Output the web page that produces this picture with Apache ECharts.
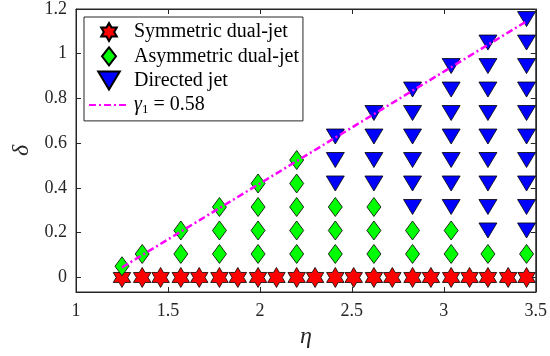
<!DOCTYPE html>
<html>
<head>
<meta charset="utf-8">
<script src="https://cdn.jsdelivr.net/npm/echarts@6/dist/echarts.min.js"></script>
<style>
html, body { margin: 0; padding: 0; background: #fff; }
#main { width: 550px; height: 356px; }
</style>
</head>
<body>
<div id="main"></div>
<script>
// symmetric dual-jet (delta = 0)
var starEta = [1.25, 1.36, 1.46, 1.57, 1.67, 1.78, 1.88, 1.99, 2.09, 2.2, 2.3, 2.41, 2.51, 2.62, 2.72, 2.83, 2.93, 3.04, 3.14, 3.24, 3.35, 3.45];
var starDelta = [0, 0, 0, 0, 0, 0, 0, 0, 0, 0, 0, 0, 0, 0, 0, 0, 0, 0, 0, 0, 0, 0];

// asymmetric dual-jet
var diamondEta = [1.25, 1.36,
	1.57, 1.57,
	1.78, 1.78, 1.78,
	1.99, 1.99, 1.99, 1.99,
	2.2, 2.2, 2.2, 2.2, 2.2,
	2.41, 2.41, 2.41,
	2.62, 2.62, 2.62,
	2.83, 2.83,
	3.04, 3.04,
	3.24,
	3.45];
var diamondDelta = [0.05, 0.105,
	0.105, 0.21,
	0.105, 0.21, 0.315,
	0.105, 0.21, 0.315, 0.42,
	0.105, 0.21, 0.315, 0.42, 0.525,
	0.105, 0.21, 0.315,
	0.105, 0.21, 0.315,
	0.105, 0.21,
	0.105, 0.21,
	0.105,
	0.105];

// directed jet
var triEta = [2.41, 2.41, 2.41,
	2.62, 2.62, 2.62, 2.62,
	2.83, 2.83, 2.83, 2.83, 2.83, 2.83,
	3.04, 3.04, 3.04, 3.04, 3.04, 3.04, 3.04,
	3.24, 3.24, 3.24, 3.24, 3.24, 3.24, 3.24, 3.24, 3.24,
	3.45, 3.45, 3.45, 3.45, 3.45, 3.45, 3.45, 3.45, 3.45, 3.45];
var triDelta = [0.42, 0.525, 0.63,
	0.42, 0.525, 0.63, 0.735,
	0.315, 0.42, 0.525, 0.63, 0.735, 0.84,
	0.315, 0.42, 0.525, 0.63, 0.735, 0.84, 0.945,
	0.21, 0.315, 0.42, 0.525, 0.63, 0.735, 0.84, 0.945, 1.05,
	0.21, 0.315, 0.42, 0.525, 0.63, 0.735, 0.84, 0.945, 1.05, 1.155];

// gamma_1 = 0.58 boundary
var lineEta = [1.25, 3.45];
var lineDelta = [0.045, 1.145];

var xTicks = [1, 1.5, 2, 2.5, 3, 3.5];
var yTicks = [0, 0.2, 0.4, 0.6, 0.8, 1, 1.2];

var names = ['Symmetric dual-jet', 'Asymmetric dual-jet', 'Directed jet', 'γ1 = 0.58'];

function pairs(xs, ys) {
	var out = [];
	for (var i = 0; i < xs.length; i++) {
		out.push([xs[i], ys[i]]);
	}
	return out;
}

var STAR = 'path://M100 0L128.87 50L186.6 50L157.7 100L186.6 150L128.87 150L100 200L71.13 150L13.4 150L42.3 100L13.4 50L71.13 50Z';
var DIAMOND = 'path://M7 0L14 9L7 18L0 9Z';
var TRI_DOWN = 'path://M0 0L18 0L9 15Z';

var serif = '"Liberation Serif", "Times New Roman", serif';
var axisColor = '#262626';

// box axes (MATLAB style, ticks inside on all four sides)
function boxAxis(extra) {
	var ax = {
		type : 'value',
		axisLine : { show : true, onZero : false, lineStyle : { color : axisColor, width : 1 } },
		axisTick : { show : true, inside : true, length : 5, lineStyle : { color : axisColor } },
		splitLine : { show : false }
	};
	for (var k in extra) {
		ax[k] = extra[k];
	}
	return ax;
}

var option = {
	animation : false,
	grid : {
		show : true,
		left : 76,
		right : 9,
		top : 8.5,
		bottom : 64,
		borderColor : axisColor,
		borderWidth : 1,
		backgroundColor : 'transparent'
	},
	legend : {
		orient : 'vertical',
		left : 84,
		top : 17,
		padding : [5, 4, 5, 4],
		itemWidth : 40,
		itemHeight : 18,
		itemGap : 4.3,
		borderColor : axisColor,
		borderWidth : 1,
		backgroundColor : '#fff',
		data : [names[0], names[1], names[2],
			{ name : names[3], itemStyle : { opacity : 0, borderWidth : 0 } }],
		formatter : function(name) {
			if (name === names[3]) {
				return '{g|γ}{s|1}{n| = 0.58}';
			}
			return name;
		},
		textStyle : {
			fontFamily : serif,
			fontSize : 20,
			color : '#000',
			width : 166,
			rich : {
				g : { fontFamily : serif, fontSize : 20, fontStyle : 'italic', color : '#000' },
				s : { fontFamily : serif, fontSize : 13, color : '#000', padding : [9, 0, 0, 0] },
				n : { fontFamily : serif, fontSize : 20, color : '#000' }
			}
		}
	},
	xAxis : [
		boxAxis({
			min : 1,
			max : 3.5,
			interval : 0.5,
			position : 'bottom',
			name : 'η',
			nameLocation : 'middle',
			nameGap : 23,
			nameTextStyle : { fontFamily : serif, fontSize : 24, fontStyle : 'italic', color : axisColor },
			axisLabel : { fontFamily : serif, fontSize : 18, color : axisColor, margin : 10,
				showMinLabel : true, showMaxLabel : true }
		}),
		boxAxis({
			min : 1,
			max : 3.5,
			interval : 0.5,
			position : 'top',
			axisLabel : { show : false }
		})
	],
	yAxis : [
		boxAxis({
			min : -0.065,
			max : 1.2,
			position : 'left',
			name : 'δ',
			nameLocation : 'middle',
			nameGap : 41,
			nameTextStyle : { fontFamily : serif, fontSize : 24, fontStyle : 'italic', color : axisColor },
			axisTick : { show : true, inside : true, length : 5, customValues : yTicks, lineStyle : { color : axisColor } },
			axisLabel : { fontFamily : serif, fontSize : 18, color : axisColor, margin : 9, customValues : yTicks }
		}),
		boxAxis({
			min : -0.065,
			max : 1.2,
			position : 'right',
			axisTick : { show : true, inside : true, length : 5, customValues : yTicks, lineStyle : { color : axisColor } },
			axisLabel : { show : false, customValues : yTicks }
		})
	],
	series : [
		{
			name : names[0],
			type : 'scatter',
			symbol : STAR,
			symbolSize : [17.5, 20],
			itemStyle : { color : '#ff0000', borderColor : '#000', borderWidth : 0.8, opacity : 1 },
			data : pairs(starEta, starDelta)
		},
		{
			name : names[1],
			type : 'scatter',
			symbol : DIAMOND,
			symbolSize : [14, 19],
			itemStyle : { color : '#00ff00', borderColor : '#000', borderWidth : 0.8, opacity : 1 },
			data : pairs(diamondEta, diamondDelta)
		},
		{
			name : names[2],
			type : 'scatter',
			symbol : TRI_DOWN,
			symbolSize : [18, 15],
			itemStyle : { color : '#0000ff', borderColor : '#000', borderWidth : 0.8, opacity : 1 },
			data : pairs(triEta, triDelta)
		},
		{
			// same scales as the main axes; bound to the top/right pair so they render
			name : names[3],
			type : 'line',
			xAxisIndex : 1,
			yAxisIndex : 1,
			symbol : 'none',
			showSymbol : false,
			z : 5,
			lineStyle : { color : '#ff00ff', width : 2.5, type : [7, 3, 2, 3] },
			itemStyle : { color : '#ff00ff' },
			data : pairs(lineEta, lineDelta)
		}
	]
};

var chart = echarts.init(document.getElementById('main'), null, { renderer : 'canvas' });
chart.setOption(option);
</script>
</body>
</html>
